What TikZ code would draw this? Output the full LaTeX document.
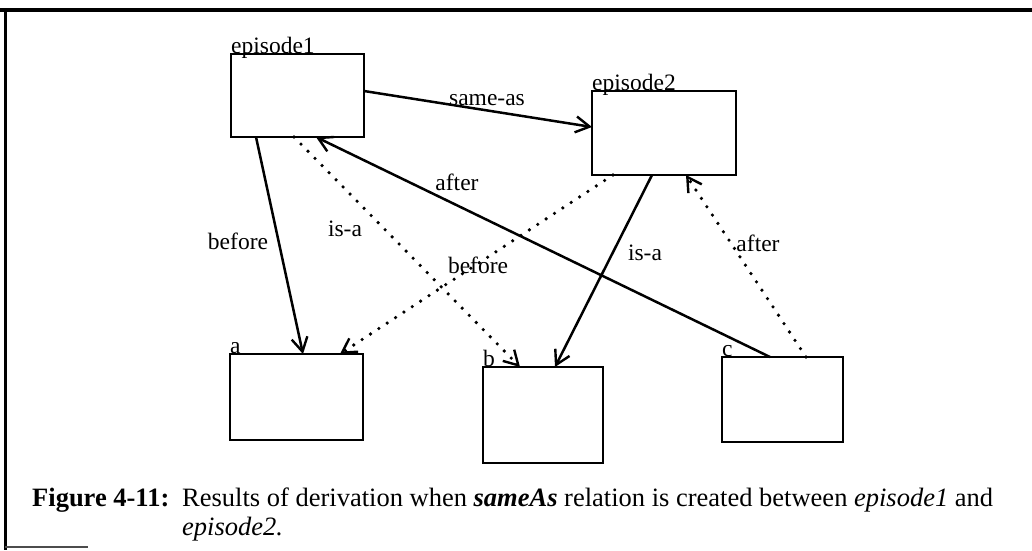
\documentclass[tikz,border=0pt]{standalone}
\usepackage{fontspec}
\setmainfont{Liberation Serif}
\usetikzlibrary{arrows.meta,calc}
\begin{document}
\begin{tikzpicture}[x=1pt,y=-1pt,
 box/.style={draw,line width=2.8pt,inner sep=0pt,outer sep=0pt},
 boxlabel/.style={anchor=base west,inner sep=0pt,font=\fontsize{23.5}{26}\selectfont},
 elabel/.style={inner sep=0pt,font=\fontsize{23.5}{26}\selectfont},
 captext/.style={anchor=base west,inner sep=0pt,font=\fontsize{26.5}{30}\selectfont},
 tip/.style={-{Straight Barb[length=14pt,width=16pt,line width=2.4pt]}},
 rel/.style={line width=2.5pt,tip},
 dotrel/.style={line width=3.6pt,line cap=round,dash pattern=on 0pt off 10pt,tip},
]
\useasboundingbox (0,0) rectangle (1032,550);
% frame
\draw[line width=4pt] (0,10) -- (1032,10);
\draw[line width=3pt] (5,8) -- (5,550);
\draw[line width=2pt,black!70] (5,547) -- (88,547);

% boxes
\node[box,minimum width=133pt,minimum height=83pt] (e1) at (297.5,95.5) {};
\node[box,minimum width=144pt,minimum height=84pt] (e2) at (664,133) {};
\node[box,minimum width=133pt,minimum height=86pt] (a) at (296.5,397) {};
\node[box,minimum width=120pt,minimum height=96pt] (b) at (543,415) {};
\node[box,minimum width=121pt,minimum height=85pt] (c) at (782.5,399.5) {};

% box labels
\node[boxlabel] (le1) at (231,53) {episode1};
\node[boxlabel] (le2) at (592,90) {episode2};
\node[boxlabel] (la) at (230,353) {a};
\node[boxlabel] (lb) at (483,366) {b};
\node[boxlabel] (lc) at (722,356) {c};

% connectors
\draw[rel] ([yshift=4.5pt]e1.east) -- ([yshift=6pt]e2.west);
\draw[rel] ([xshift=25pt]e1.south west) -- ([xshift=73pt]a.north west);
\draw[dotrel] ([xshift=63pt]e1.south west) -- ([xshift=37pt]b.north west);
\draw[rel] ([xshift=48pt]c.north west) -- ([xshift=85pt]e1.south west);
\draw[dotrel] ([xshift=21pt]e2.south west) -- ([xshift=110pt]a.north west);
\draw[rel] ([xshift=60pt]e2.south west) -- ([xshift=72pt]b.north west);
\draw[dotrel] ([xshift=84pt]c.north west) -- ([xshift=94pt]e2.south west);

% connector labels
\node[elabel] (tsame) at (487,100) {same-as};
\node[elabel] (tbef1) at (238,241) {before};
\node[elabel] (tisa1) at (345,229) {is-a};
\node[elabel] (taft1) at (457,182) {after};
\node[elabel] (tbef2) at (478,265) {before};
\node[elabel] (tisa2) at (645,253) {is-a};
\node[elabel] (taft2) at (758,243) {after};

% caption
\node[captext,font=\fontsize{26.5}{30}\selectfont\bfseries] (figlab) at (32,506) {Figure 4-11:};
\node[captext] (cap1) at (182,506) {Results of derivation when \textbf{\textit{sameAs}} relation is created between \textit{episode1} and};
\node[captext] (cap2) at (182,535) {\textit{episode2.}};
\end{tikzpicture}
\end{document}
